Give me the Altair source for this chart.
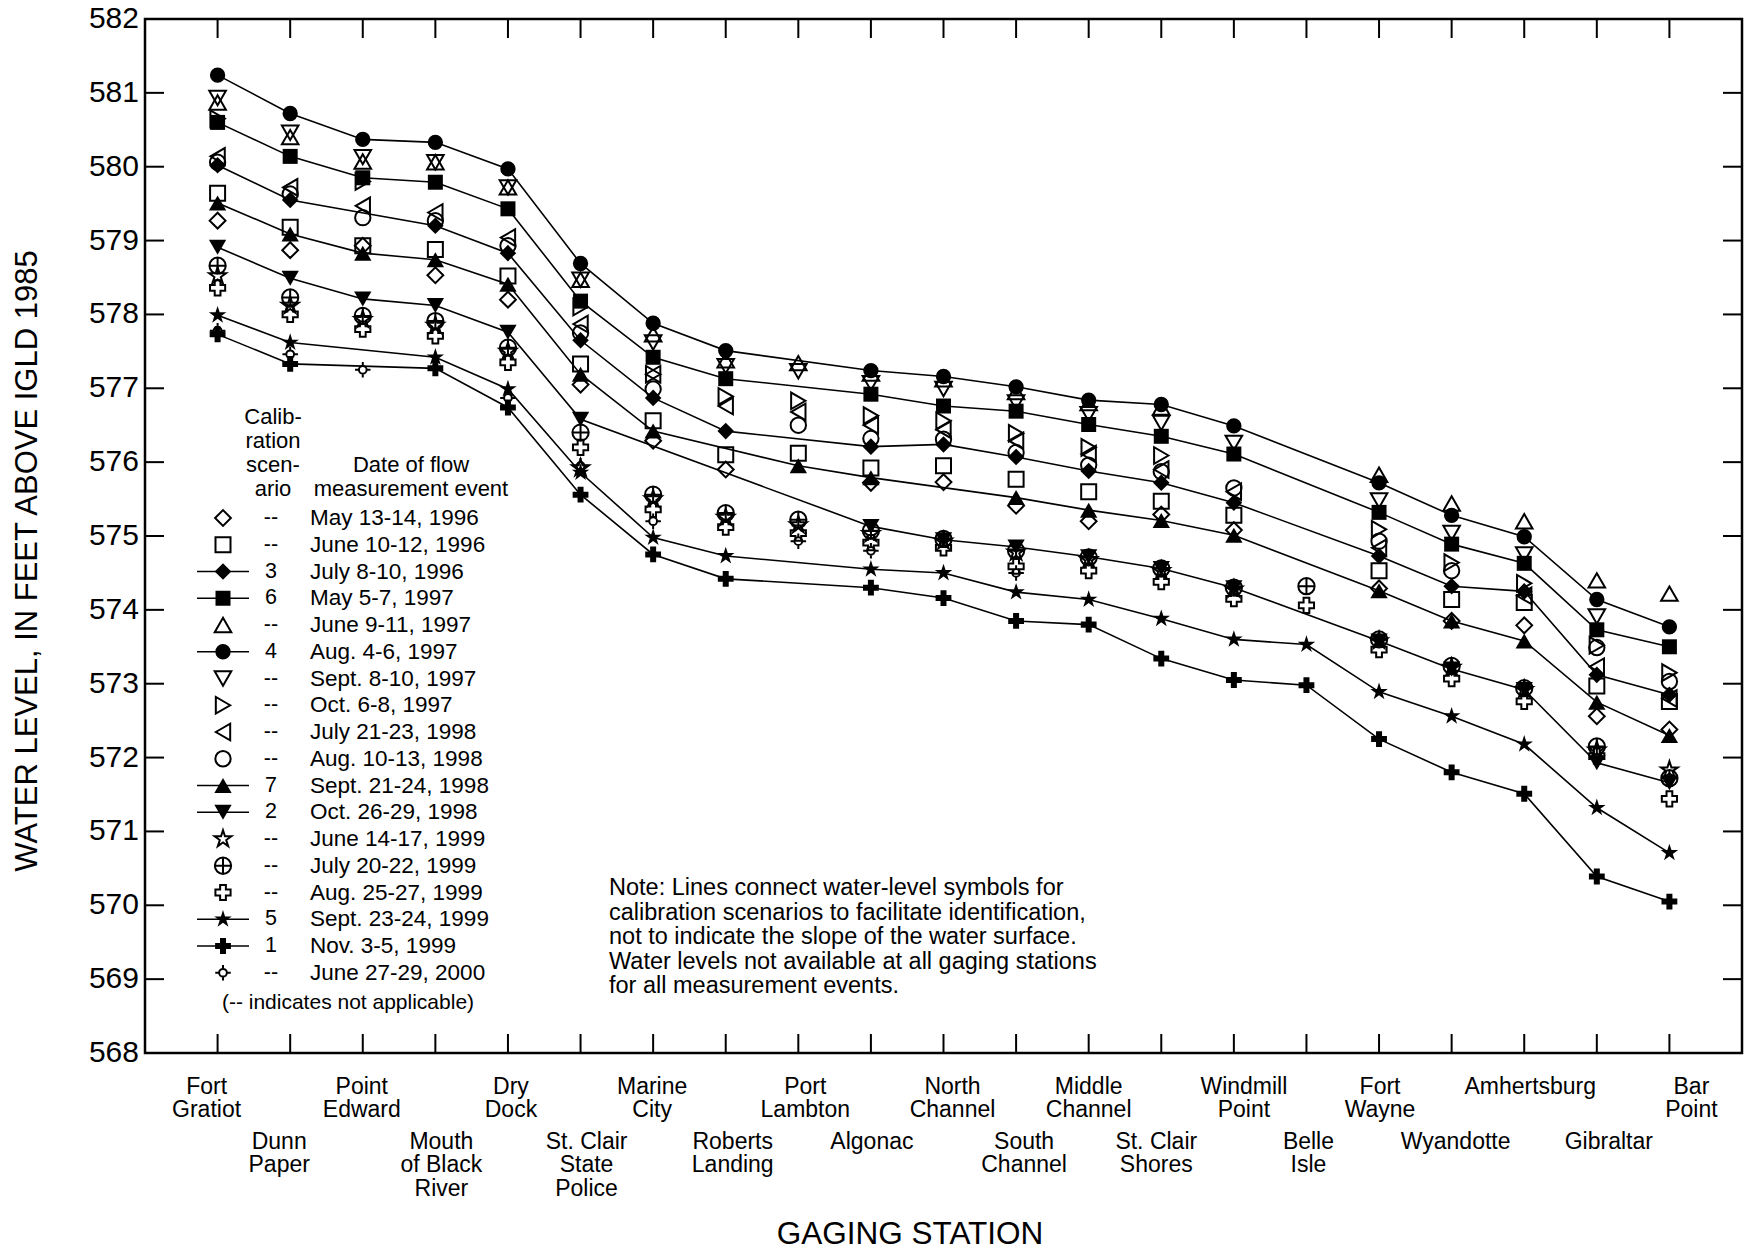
import altair as alt
import pandas as pd

# ---------------- data ----------------
STATIONS = ["Fort\nGratiot", "Dunn\nPaper", "Point\nEdward", "Mouth\nof Black\nRiver", "Dry\nDock",
            "St. Clair\nState\nPolice", "Marine\nCity", "Roberts\nLanding", "Port\nLambton", "Algonac",
            "North\nChannel", "South\nChannel", "Middle\nChannel", "St. Clair\nShores", "Windmill\nPoint",
            "Belle\nIsle", "Fort\nWayne", "Wyandotte", "Amhertsburg", "Gibraltar", "Bar\nPoint"]
N = None
MAY_13_1996 = [579.27, 578.87, 578.93, 578.53, 578.20, 577.05, 576.29, 575.90, N, 575.72, 575.73, 575.41, 575.20, 575.29, 575.08, N, 574.29, 573.85, 573.79, 572.56, 572.38]
JUN_10_1996 = [579.64, 579.18, 578.93, 578.88, 578.52, 577.33, 576.56, 576.10, 576.12, 575.92, 575.95, 575.77, 575.60, 575.47, 575.28, N, 574.53, 574.14, 574.10, 572.97, 572.76]
JUL_8_1996 = [580.02, 579.55, N, 579.20, 578.83, 577.65, 576.87, 576.42, N, 576.21, 576.24, 576.07, 575.88, 575.72, 575.45, N, 574.73, 574.32, 574.25, 573.12, 572.85]
MAY_5_1997 = [580.60, 580.14, 579.85, 579.79, 579.43, 578.18, 577.42, 577.13, N, 576.92, 576.76, 576.69, 576.51, 576.35, 576.11, N, 575.32, 574.89, 574.63, 573.73, 573.50]
JUN_9_1997 = [580.87, 580.40, 580.07, 580.06, 579.72, 578.47, 577.73, 577.38, 577.34, 577.20, 577.12, 576.95, 576.80, 576.74, N, N, 575.83, 575.44, 575.20, 574.40, 574.22]
AUG_4_1997 = [581.24, 580.72, 580.37, 580.33, 579.97, 578.69, 577.88, 577.51, N, 577.24, 577.16, 577.02, 576.84, 576.78, 576.49, N, 575.72, 575.28, 574.99, 574.14, 573.77]
SEP_8_1997 = [580.93, 580.46, 580.13, 580.06, 579.72, 578.47, 577.62, 577.30, 577.23, 577.07, 576.99, 576.81, 576.65, 576.53, 576.26, N, 575.48, 575.04, 574.75, 573.91, N]
OCT_6_1997 = [580.65, N, 579.80, N, N, 578.10, 577.19, 576.89, 576.83, 576.63, 576.56, 576.39, 576.20, 576.09, N, N, 575.09, 574.64, 574.36, 573.52, 573.15]
JUL_21_1998 = [580.14, 579.72, 579.47, 579.38, 579.04, 577.87, 577.19, 576.76, 576.68, 576.50, 576.44, 576.29, 576.11, 575.90, 575.60, N, 574.84, N, 574.19, 573.23, 572.80]
AUG_10_1998 = [580.06, 579.63, 579.31, 579.27, 578.93, 577.75, 576.99, N, 576.50, 576.32, 576.31, 576.13, 575.96, 575.87, 575.65, N, 574.93, 574.53, N, 573.49, 573.03]
SEP_21_1998 = [579.51, 579.09, 578.83, 578.74, 578.41, 577.19, 576.42, N, 575.95, 575.79, N, 575.52, 575.35, 575.21, 575.01, N, 574.26, 573.85, 573.58, 572.75, 572.30]
OCT_26_1998 = [578.91, 578.49, 578.21, 578.12, 577.76, 576.58, N, N, N, 575.13, 574.95, 574.85, 574.72, 574.56, 574.30, N, 573.58, 573.20, 572.92, 571.93, 571.66]
JUN_14_1999 = [578.52, 578.12, 577.93, 577.85, 577.50, 575.92, 575.50, 575.25, 575.15, 575.03, 574.93, 574.78, 574.68, 574.53, 574.28, N, 573.58, 573.22, 572.92, 572.10, 571.83]
JUL_20_1999 = [578.66, 578.23, 577.98, 577.91, 577.55, 576.40, 575.56, 575.31, 575.22, 575.07, 574.96, 574.80, 574.71, 574.56, 574.30, 574.32, 573.60, 573.24, 572.94, 572.15, 571.72]
AUG_25_1999 = [578.36, 578.00, 577.80, 577.71, 577.35, 576.20, 575.36, 575.12, 575.04, 574.91, 574.84, 574.59, 574.53, 574.38, 574.15, 574.06, 573.46, 573.07, 572.76, 572.02, 571.44]
SEP_23_1999 = [577.99, 577.62, N, 577.42, 576.99, 575.86, 574.98, 574.73, N, 574.55, 574.50, 574.24, 574.14, 573.88, 573.60, 573.53, 572.89, 572.56, 572.18, 571.32, 570.71]
NOV_3_1999 = [577.73, 577.33, N, 577.27, 576.74, 575.56, 574.75, 574.42, N, 574.30, 574.16, 573.85, 573.80, 573.34, 573.05, 572.98, 572.25, 571.80, 571.51, 570.39, 570.05]
JUN_27_2000 = [577.78, 577.46, 577.25, N, 576.87, 575.95, 575.20, N, 574.93, 574.80, N, 574.50, N, N, N, N, N, N, N, N, N]

DATES = ["May 13-14, 1996", "June 10-12, 1996", "July 8-10, 1996", "May 5-7, 1997", "June 9-11, 1997",
         "Aug. 4-6, 1997", "Sept. 8-10, 1997", "Oct. 6-8, 1997", "July 21-23, 1998", "Aug. 10-13, 1998",
         "Sept. 21-24, 1998", "Oct. 26-29, 1998", "June 14-17, 1999", "July 20-22, 1999", "Aug. 25-27, 1999",
         "Sept. 23-24, 1999", "Nov. 3-5, 1999", "June 27-29, 2000"]
SCENARIOS = ["--", "--", "3", "6", "--", "4", "--", "--", "--", "--", "7", "2", "--", "--", "--", "5", "1", "--"]
VALUES = [MAY_13_1996, JUN_10_1996, JUL_8_1996, MAY_5_1997, JUN_9_1997, AUG_4_1997, SEP_8_1997, OCT_6_1997,
          JUL_21_1998, AUG_10_1998, SEP_21_1998, OCT_26_1998, JUN_14_1999, JUL_20_1999, AUG_25_1999,
          SEP_23_1999, NOV_3_1999, JUN_27_2000]
Y_TICKS = list(range(568, 583))
Y_TITLE = "WATER LEVEL, IN FEET ABOVE IGLD 1985"
X_TITLE = "GAGING STATION"
HEADER_LEFT = ["Calib-", "ration", "scen-", "ario"]
HEADER_RIGHT = ["Date of flow", "measurement event"]
FOOTNOTE = "(-- indicates not applicable)"
NOTE = ["Note: Lines connect water-level symbols for",
        "calibration scenarios to facilitate identification,",
        "not to indicate the slope of the water surface.",
        "Water levels not available at all gaging stations",
        "for all measurement events."]

# ---------------- styles ----------------
FONT = "Liberation Sans"
STAR = "M0,-1 L0.2245,-0.309 L0.951,-0.309 L0.363,0.118 L0.588,0.809 L0,0.382 L-0.588,0.809 L-0.363,0.118 L-0.951,-0.309 L-0.2245,-0.309 Z"
PLUS = "M-0.38,-1 L0.38,-1 L0.38,-0.38 L1,-0.38 L1,0.38 L0.38,0.38 L0.38,1 L-0.38,1 L-0.38,0.38 L-1,0.38 L-1,-0.38 L-0.38,-0.38 Z"
CIRCLE_PLUS = "M-1,0 A1,1 0 1,0 1,0 A1,1 0 1,0 -1,0 Z M-1,0 L1,0 M0,-1 L0,1"
CROSSHAIR = "M-0.5,0 A0.5,0.5 0 1,0 0.5,0 A0.5,0.5 0 1,0 -0.5,0 Z M-1,0 L-0.5,0 M0.5,0 L1,0 M0,-1 L0,-0.5 M0,0.5 L0,1"
# (shape, filled, size, connected)
STYLE = [("diamond", False, 250, False), ("square", False, 225, False), ("diamond", True, 275, True),
         ("square", True, 225, True), ("triangle-up", False, 275, False), ("circle", True, 235, True),
         ("triangle-down", False, 275, False), ("triangle-right", False, 275, False),
         ("triangle-left", False, 275, False), ("circle", False, 235, False), ("triangle-up", True, 300, True),
         ("triangle-down", True, 300, True), (STAR, False, 310, False), (CIRCLE_PLUS, False, 265, False),
         (PLUS, False, 230, False), (STAR, True, 340, True), (PLUS, True, 250, True), (CROSSHAIR, False, 240, False)]

W, H = 1597, 1034
LEFT, TOP = 145, 19
X_MIN, X_MAX = -1.0, 21.0
Y_MIN, Y_MAX = 568.0, 582.0
PX_PER_X = W / (X_MAX - X_MIN)
LABEL_DX = [-11, -11, -1, 6, 3, 6, -1, 7, 7, 1, 9, 8, 0, -5, 10, 2, 1, 4, 6, 12, 22]

xs = alt.Scale(domain=[X_MIN, X_MAX], nice=False, zero=False)
ys = alt.Scale(domain=[Y_MIN, Y_MAX], nice=False, zero=False)


def px_x(page_x):
    return X_MIN + (page_x - LEFT) / PX_PER_X


def px_y(page_y):
    return Y_MAX - (page_y - TOP) * (Y_MAX - Y_MIN) / H


def text_layer(rows, align, size):
    df = pd.DataFrame(rows, columns=["x", "y", "t"])
    return alt.Chart(df).mark_text(align=align, baseline="middle", font=FONT, fontSize=size,
                                   color="black").encode(
        x=alt.X("x:Q", scale=xs, axis=None), y=alt.Y("y:Q", scale=ys, axis=None), text="t:N")


layers = []

# inward frame ticks
ytick_df = pd.DataFrame({"v": Y_TICKS})
xtick_df = pd.DataFrame({"s": list(range(len(STATIONS)))})
layers.append(alt.Chart(ytick_df).mark_rule(color="black", strokeWidth=2).encode(
    y=alt.Y("v:Q", scale=ys, axis=None), x=alt.value(0), x2=alt.value(19)))
layers.append(alt.Chart(ytick_df).mark_rule(color="black", strokeWidth=2).encode(
    y=alt.Y("v:Q", scale=ys, axis=None), x=alt.value(W - 19), x2=alt.value(W)))
layers.append(alt.Chart(xtick_df).mark_rule(color="black", strokeWidth=2).encode(
    x=alt.X("s:Q", scale=xs, axis=None), y=alt.value(0), y2=alt.value(19)))
layers.append(alt.Chart(xtick_df).mark_rule(color="black", strokeWidth=2).encode(
    x=alt.X("s:Q", scale=xs, axis=None), y=alt.value(H - 19), y2=alt.value(H)))

# y tick labels and axis titles
layers.append(alt.Chart(ytick_df).mark_text(align="right", baseline="middle", font=FONT, fontSize=30,
                                            color="black").encode(
    y=alt.Y("v:Q", scale=ys, axis=None), x=alt.value(139 - LEFT), text="v:Q"))
layers.append(alt.Chart(pd.DataFrame({"t": [Y_TITLE]})).mark_text(
    angle=270, align="center", baseline="middle", font=FONT, fontSize=31, color="black").encode(
    x=alt.value(28 - LEFT), y=alt.value(561 - TOP), text="t:N"))
layers.append(alt.Chart(pd.DataFrame({"t": [X_TITLE]})).mark_text(
    align="center", baseline="middle", font=FONT, fontSize=31.5, color="black").encode(
    x=alt.value(910 - LEFT), y=alt.value(1235 - TOP), text="t:N"))

# series lines
frames = []
for vals in VALUES:
    frames.append(pd.DataFrame({"station": list(range(len(STATIONS))), "level": vals}).dropna())
for k, (shape, filled, size, conn) in enumerate(STYLE):
    if conn:
        layers.append(alt.Chart(frames[k]).mark_line(color="black", strokeWidth=1.6).encode(
            x=alt.X("station:Q", scale=xs, axis=None), y=alt.Y("level:Q", scale=ys, axis=None)))

# points: open first, then filled
order = [k for k in range(len(STYLE)) if not STYLE[k][1]] + [k for k in range(len(STYLE)) if STYLE[k][1]]
for k in order:
    shape, filled, size, conn = STYLE[k]
    layers.append(alt.Chart(frames[k]).mark_point(shape=shape, filled=filled, size=size, color="black",
                                                  opacity=1, strokeWidth=2).encode(
        x=alt.X("station:Q", scale=xs, axis=None), y=alt.Y("level:Q", scale=ys, axis=None)))

# station labels
lab_rows = []
for i, name in enumerate(STATIONS):
    first = 1086.7 if i % 2 == 0 else 1141.7
    for j, line in enumerate(name.split("\n")):
        lab_rows.append((i + LABEL_DX[i] / PX_PER_X, px_y(first + 23.6 * j), line))
layers.append(text_layer(lab_rows, "center", 23))

# legend
ROW0, ROWSTEP = 518.0, 26.75
one = pd.DataFrame({"k": [0]})
for k, (shape, filled, size, conn) in enumerate(STYLE):
    py = ROW0 + ROWSTEP * k - TOP
    if conn:
        layers.append(alt.Chart(one).mark_rule(color="black", strokeWidth=1.6).encode(
            x=alt.value(197 - LEFT), x2=alt.value(249 - LEFT), y=alt.value(py)))
    layers.append(alt.Chart(one).mark_point(shape=shape, filled=filled, size=size, color="black",
                                            opacity=1, strokeWidth=2).encode(
        x=alt.value(223 - LEFT), y=alt.value(py)))
layers.append(text_layer([(px_x(271), px_y(ROW0 + ROWSTEP * k), s) for k, s in enumerate(SCENARIOS)],
                         "center", 21.5))
layers.append(text_layer([(px_x(310), px_y(ROW0 + ROWSTEP * k), s) for k, s in enumerate(DATES)],
                         "left", 22.5))
layers.append(text_layer([(px_x(273), px_y(417 + 24 * j), s) for j, s in enumerate(HEADER_LEFT)]
                         + [(px_x(411), px_y(465 + 24 * j), s) for j, s in enumerate(HEADER_RIGHT)],
                         "center", 22))
layers.append(text_layer([(px_x(348), px_y(1003), FOOTNOTE)], "center", 21))
layers.append(text_layer([(px_x(609), px_y(888 + 24.5 * j), s) for j, s in enumerate(NOTE)], "left", 23.5))

chart = alt.layer(*layers).properties(
    width=W, height=H,
    background="white",
    autosize=alt.AutoSizeParams(type="none"),
    padding={"left": LEFT, "top": TOP, "right": 1747 - LEFT - W, "bottom": 1253 - TOP - H},
).configure_view(stroke="black", strokeWidth=2.5)

chart.save("out.html", embed_options={"renderer": "svg", "actions": False})
